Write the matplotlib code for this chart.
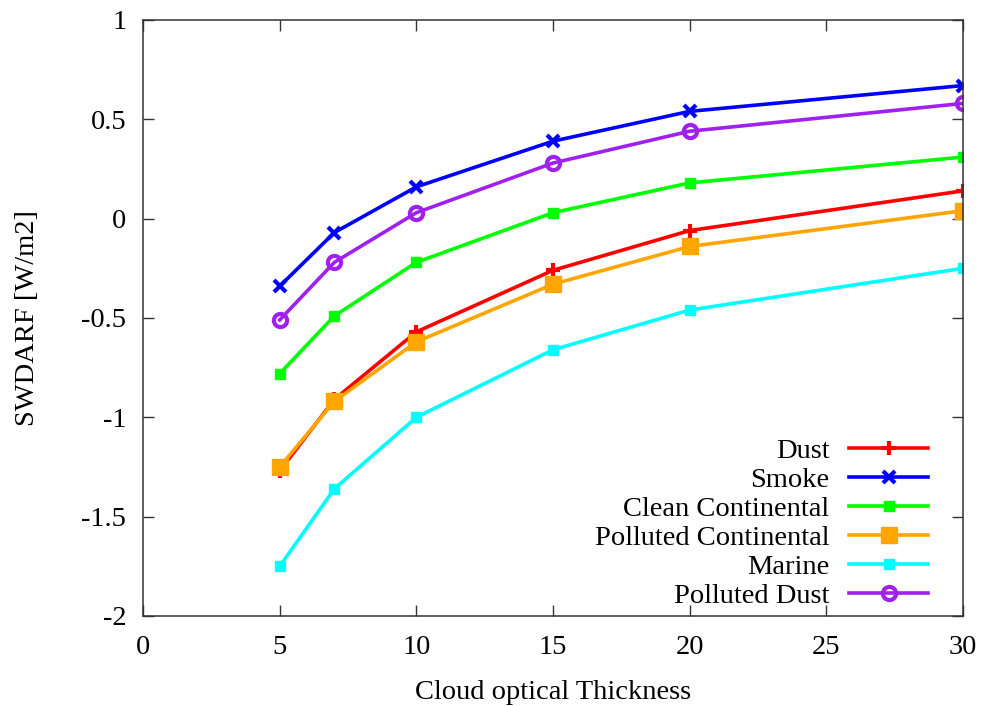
import matplotlib
matplotlib.use("Agg")
import matplotlib.pyplot as plt

plt.rcParams['font.family'] = ['Liberation Serif', 'DejaVu Serif']
plt.rcParams['axes.unicode_minus'] = False

# cloud optical thickness values
cot = [5, 7, 10, 15, 20, 30]

# SW direct aerosol radiative forcing per aerosol type
dust = [-1.27, -0.91, -0.57, -0.26, -0.06, 0.14]
smoke = [-0.34, -0.07, 0.16, 0.39, 0.54, 0.67]
clean_cont = [-0.78, -0.49, -0.22, 0.03, 0.18, 0.31]
polluted_cont = [-1.25, -0.92, -0.62, -0.33, -0.14, 0.04]
marine = [-1.75, -1.36, -1.00, -0.66, -0.46, -0.25]
polluted_dust = [-0.51, -0.22, 0.03, 0.28, 0.44, 0.58]

xticks = [0, 5, 10, 15, 20, 25, 30]
yticks = [-2, -1.5, -1, -0.5, 0, 0.5, 1]
ytick_labels = ['-2', '-1.5', '-1', '-0.5', '0', '0.5', '1']

fs = 20.5

fig = plt.figure(figsize=(9.87, 7.06), dpi=100)
ax = fig.add_axes([0.1449, 0.1275, 0.8308, 0.8442])

lw = 2.6
ax.plot(cot, dust, color='#ff0000', lw=lw, marker='+', ms=10, mew=3, label='Dust')
ax.plot(cot, smoke, color='#0000ff', lw=lw, marker='x', ms=8, mew=3, label='Smoke')
ax.plot(cot, clean_cont, color='#00ff00', lw=lw, marker='s', ms=7.5, label='Clean Continental')
ax.plot(cot, polluted_cont, color='#ffa500', lw=lw, marker='s', ms=11.5, label='Polluted Continental')
ax.plot(cot, marine, color='#00ffff', lw=lw, marker='s', ms=7.5, label='Marine')
ax.plot(cot, polluted_dust, color='#a020f0', lw=lw, marker='o', ms=9.5, mfc='none', mew=3,
        label='Polluted Dust')

ax.set_xlim(0, 30)
ax.set_ylim(-2, 1)
ax.set_xticks(xticks)
ax.set_yticks(yticks)
ax.set_yticklabels(ytick_labels)
ax.tick_params(direction='in', length=8, width=1, top=True, right=True,
               labelsize=fs, color='#333333')
ax.tick_params(axis='x', pad=14)
ax.tick_params(axis='y', pad=12)
for s in ax.spines.values():
    s.set_linewidth(1.1)
    s.set_color('#333333')

ax.set_xlabel('Cloud optical Thickness', fontsize=fs, labelpad=14)
ax.set_ylabel('SWDARF [W/m2]', fontsize=fs, labelpad=30)

leg = ax.legend(loc='lower right', bbox_to_anchor=(0.957, 0.012), frameon=False,
                markerfirst=False, fontsize=fs, handlelength=2.75, handletextpad=0.7,
                labelspacing=0.11, borderaxespad=0, borderpad=0)

fig.savefig('out.png', dpi=100)
